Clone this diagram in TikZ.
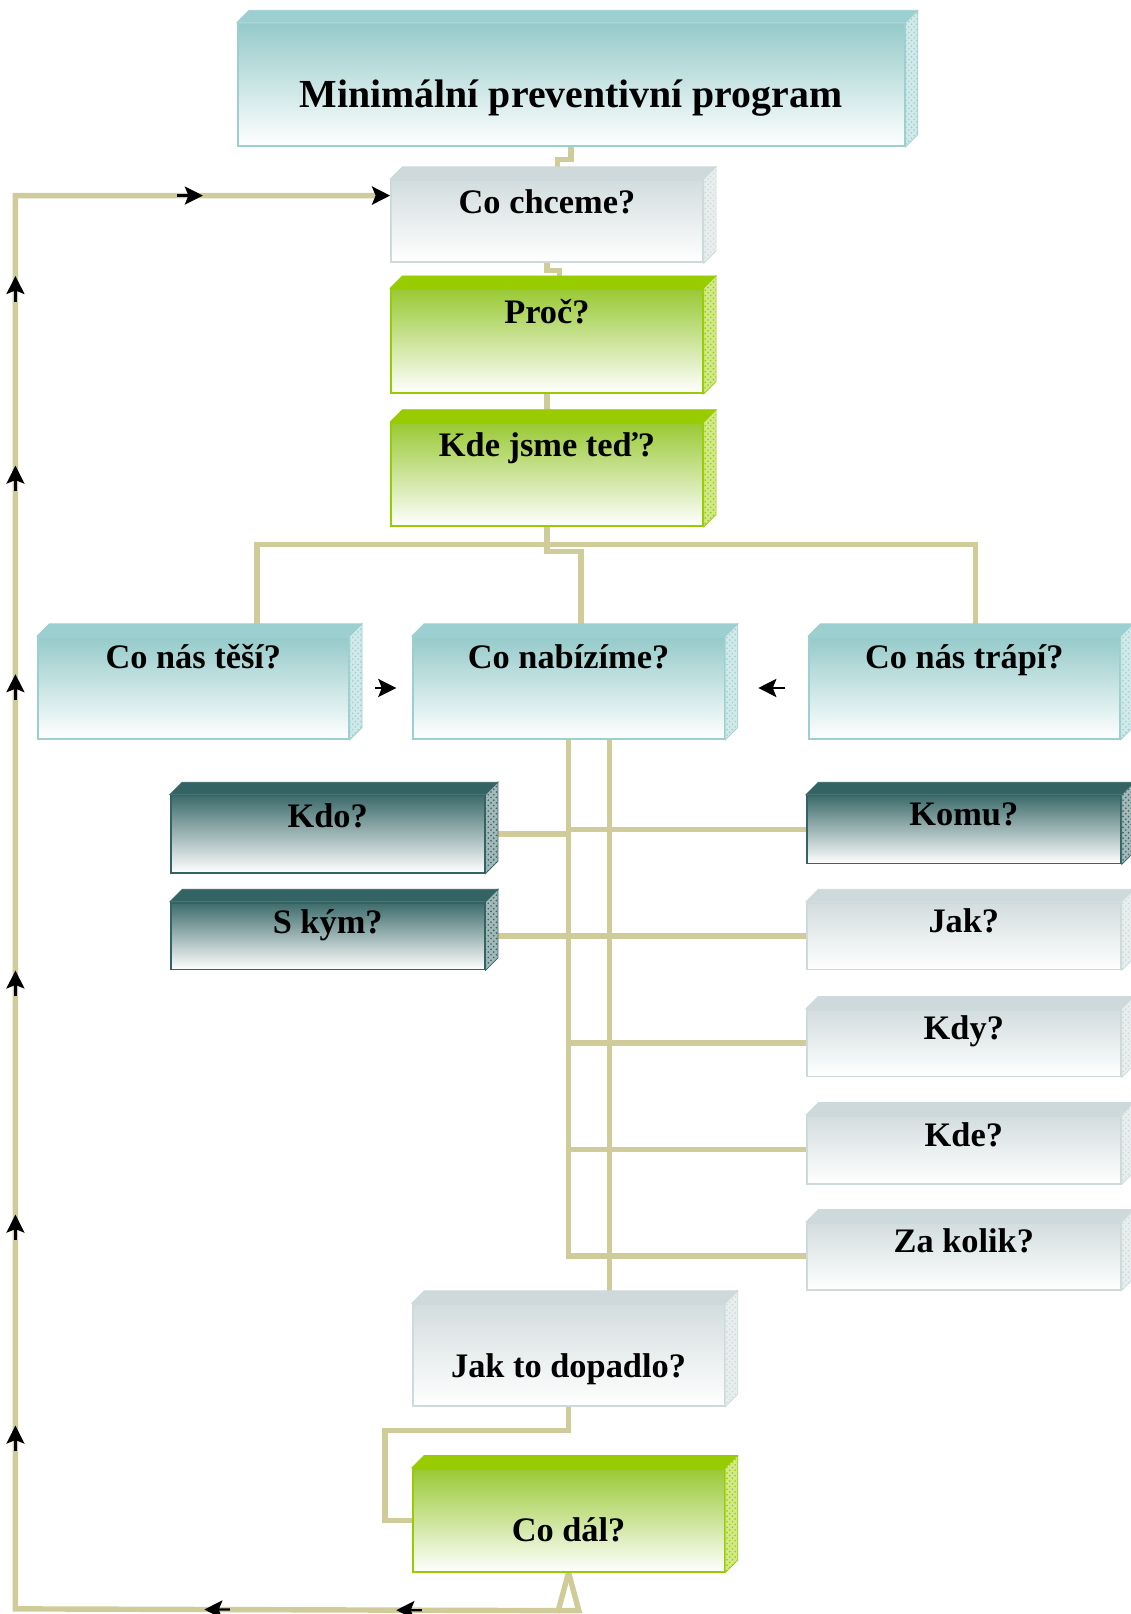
\documentclass[tikz,border=0pt]{standalone}
\usepackage{fontspec}
\setmainfont{Liberation Serif}
\usetikzlibrary{arrows.meta,calc,backgrounds,decorations.markings,patterns}
\definecolor{tealfill}{HTML}{96CACA}
\definecolor{tealline}{HTML}{9CCFCF}
\definecolor{leaffill}{HTML}{99C934}
\definecolor{leafline}{HTML}{99CC00}
\definecolor{pinefill}{HTML}{3D6B6B}
\definecolor{pineline}{HTML}{336363}
\definecolor{mistfill}{HTML}{D3DDDE}
\definecolor{mistline}{HTML}{CDD9DA}
\definecolor{khaki}{HTML}{CFCC9A}
\newcommand{\flowtip}{\draw[black, line width=1.2pt, -{Stealth[length=10pt, width=10pt, inset=2pt]}] (-0.5cm,0) -- (0,0);}
\tikzset{
    box/.style = {rectangle, anchor=north west, inner sep=0pt, line width=1pt, font=\fontsize{19}{22}\selectfont\bfseries},
    tealbox/.style = {box, draw=tealline, top color=tealfill, bottom color=white},
    leafbox/.style = {box, draw=leafline, top color=leaffill, bottom color=white},
    pinebox/.style = {box, draw=pineline, top color=pinefill, bottom color=white},
    mistbox/.style = {box, draw=mistline, top color=mistfill, bottom color=white},
    conn/.style = {draw=khaki, line width=3pt},
    tip/.style = {black, line width=1.2pt, -{Stealth[length=10pt, width=10pt, inset=2pt]}},
    loopmarks/.style = {postaction={decorate}, decoration={markings,
        mark=at position 0.085 with {\flowtip},
        mark=at position 0.166 with {\flowtip},
        mark=at position 0.323 with {\flowtip},
        mark=at position 0.412 with {\flowtip},
        mark=at position 0.515 with {\flowtip},
        mark=at position 0.640 with {\flowtip},
        mark=at position 0.728 with {\flowtip},
        mark=at position 0.808 with {\flowtip},
        mark=at position 0.921 with {\flowtip}}}
}
\begin{document}
\begin{tikzpicture}[x=0.02cm, y=-0.02cm]
\useasboundingbox (0,0) rectangle (1098,1568);
% front faces
\node (title) [tealbox, font=\fontsize{22}{26}\selectfont\bfseries, minimum width=12.96cm, minimum height=2.38cm, text height=1.64cm, text depth=0.74cm] at (230,22) {Minimální preventivní program};
\node (chceme) [mistbox, minimum width=6.06cm, minimum height=1.6cm, text height=0.66cm, text depth=0.94cm] at (379,174) {Co chceme?};
\node (proc) [leafbox, minimum width=6.06cm, minimum height=2.02cm, text height=0.66cm, text depth=1.36cm] at (379,280) {Proč?};
\node (kdejsme) [leafbox, minimum width=6.06cm, minimum height=2cm, text height=0.66cm, text depth=1.34cm] at (379,410) {Kde jsme teď?};
\node (tesi) [tealbox, minimum width=6.04cm, minimum height=1.98cm, text height=0.62cm, text depth=1.36cm] at (36,618) {Co nás těší?};
\node (nab) [tealbox, minimum width=6.06cm, minimum height=1.98cm, text height=0.62cm, text depth=1.36cm] at (400,618) {Co nabízíme?};
\node (trapi) [tealbox, minimum width=6.04cm, minimum height=1.98cm, text height=0.62cm, text depth=1.36cm] at (785,618) {Co nás trápí?};
\node (kdo) [pinebox, minimum width=6.1cm, minimum height=1.5cm, text height=0.62cm, text depth=0.88cm] at (165,772) {Kdo?};
\node (skym) [pinebox, minimum width=6.1cm, minimum height=1.3cm, text height=0.6cm, text depth=0.7cm] at (165,876) {S kým?};
\node (komu) [pinebox, minimum width=6.1cm, minimum height=1.32cm, text height=0.58cm, text depth=0.74cm] at (783,772) {Komu?};
\node (jak) [mistbox, minimum width=6.1cm, minimum height=1.3cm, text height=0.58cm, text depth=0.72cm] at (783,876) {Jak?};
\node (kdy) [mistbox, minimum width=6.1cm, minimum height=1.3cm, text height=0.58cm, text depth=0.72cm] at (783,980) {Kdy?};
\node (kde) [mistbox, minimum width=6.1cm, minimum height=1.32cm, text height=0.6cm, text depth=0.72cm] at (783,1083) {Kde?};
\node (zakolik) [mistbox, minimum width=6.1cm, minimum height=1.3cm, text height=0.58cm, text depth=0.72cm] at (783,1187) {Za kolik?};
\node (dopadlo) [mistbox, minimum width=6.06cm, minimum height=1.98cm, text height=1.42cm, text depth=0.56cm] at (400,1266) {Jak to dopadlo?};
\node (codal) [leafbox, minimum width=6.06cm, minimum height=2cm, text height=1.42cm, text depth=0.58cm] at (400,1426) {Co dál?};

% top and side faces
\foreach \n/\c in {title/tealline, chceme/mistline, proc/leafline, kdejsme/leafline, tesi/tealline, nab/tealline, trapi/tealline, kdo/pineline, skym/pineline, komu/pineline, jak/mistline, kdy/mistline, kde/mistline, zakolik/mistline, dopadlo/mistline, codal/leafline} {
    \filldraw [fill=\c, draw=\c] (\n.north west) -- ++(0.24cm,0.24cm) -- ($(\n.north east)+(0.24cm,0.24cm)$) -- (\n.north east) -- cycle;
    \filldraw [fill=\c!45!white, draw=\c, postaction={pattern=crosshatch dots, pattern color=\c}] (\n.north east) -- ++(0.24cm,0.24cm) -- ($(\n.south east)+(0.24cm,0.24cm)$) -- (\n.south east) -- cycle;
}

\begin{scope}[on background layer]
\draw [conn] (title.south) -- ++(0,12) -| ($(chceme.north)+(10,0)$);
\draw [conn] (chceme.south) -- ++(0,7) -| ($(proc.north)+(12,0)$);
\draw [conn] (proc.south) -- (kdejsme.north);
\coordinate (bus) at ($(kdejsme.south)+(0,17)$);
\draw [conn] (kdejsme.south) -- (bus);
\draw [conn] ($(tesi.north)+(62,0)$) |- (bus) -| ($(trapi.north)+(11,0)$);
\draw [conn] (bus) -- ++(0,7) -| ($(nab.north)+(12,0)$);
\draw [conn] (nab.south) |- (zakolik.west);
\draw [conn] ($(nab.south)+(40,0)$) -- ($(dopadlo.north)+(40,0)$);
\draw [conn] (kdo.east) -- (kdo.east -| nab.south);
\draw [conn] (komu.west) -- (komu.west -| nab.south);
\draw [conn] (skym.east) -- (jak.west);
\draw [conn] (kdy.west) -- (kdy.west -| nab.south);
\draw [conn] (kde.west) -- (kde.west -| nab.south);
\draw [conn] (dopadlo.south) -- ++(0,23) -| ($(codal.west)+(-26,0)$) -- (codal.west);
\draw [conn] (codal.south) -- ++(10,37) -- ++(-20,0);
\draw [conn, loopmarks, -{Stealth[color=black, length=10pt, width=10pt, inset=2pt]}] (codal.south) -- ++(-10,37) -- (15,1563) -- (15,190) -- ($(chceme.north west)+(0,16)$);
\end{scope}

\draw [tip, shorten <=0.5cm, shorten >=0.3cm] (tesi) -- (nab);
\draw [tip, shorten <=0.44cm, shorten >=0.64cm] (trapi) -- (nab);
\end{tikzpicture}
\end{document}
